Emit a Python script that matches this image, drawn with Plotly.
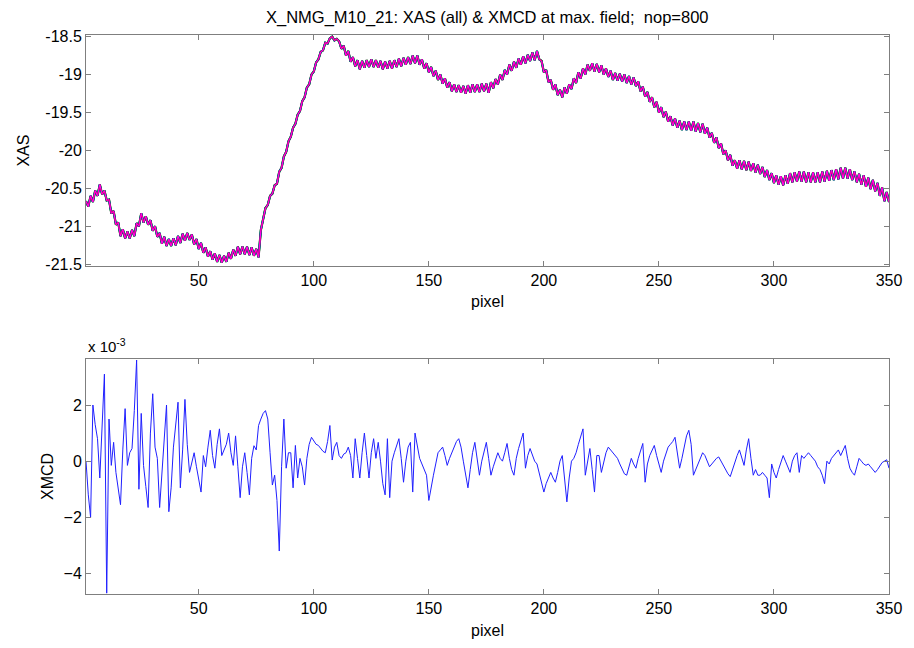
import plotly.graph_objects as go

# ---------------- data ----------------
pixel = list(range(1, 351))

xas = [
 -20.67, -20.74, -20.60, -20.68, -20.53, -20.60, -20.45, -20.58, -20.53, -20.66,
 -20.65, -20.83, -20.80, -20.98, -20.95, -21.13, -21.04, -21.16, -21.07, -21.16,
 -21.05, -21.13, -20.96, -21.00, -20.83, -20.95, -20.87, -20.98, -20.92, -21.06,
 -21.00, -21.14, -21.09, -21.23, -21.14, -21.26, -21.17, -21.26, -21.16, -21.25,
 -21.13, -21.22, -21.10, -21.19, -21.09, -21.18, -21.11, -21.24, -21.17, -21.30,
 -21.22, -21.35, -21.28, -21.40, -21.33, -21.44, -21.36, -21.47, -21.38, -21.48,
 -21.39, -21.47, -21.35, -21.43, -21.31, -21.39, -21.27, -21.37, -21.27, -21.37,
 -21.27, -21.38, -21.28, -21.39, -21.30, -21.41, -21.05, -20.88, -20.76, -20.72,
 -20.60, -20.57, -20.46, -20.44, -20.28, -20.23, -20.08, -20.02, -19.88, -19.82,
 -19.70, -19.65, -19.53, -19.48, -19.35, -19.30, -19.17, -19.13, -19.00, -18.96,
 -18.84, -18.80, -18.70, -18.68, -18.58, -18.59, -18.52, -18.50, -18.55, -18.53,
 -18.56, -18.66, -18.62, -18.75, -18.69, -18.83, -18.77, -18.89, -18.81, -18.93,
 -18.82, -18.91, -18.81, -18.90, -18.80, -18.90, -18.81, -18.91, -18.82, -18.93,
 -18.83, -18.92, -18.82, -18.92, -18.81, -18.90, -18.79, -18.89, -18.78, -18.87,
 -18.77, -18.86, -18.75, -18.85, -18.75, -18.87, -18.80, -18.92, -18.85, -18.97,
 -18.90, -19.02, -18.95, -19.07, -19.00, -19.12, -19.05, -19.17, -19.10, -19.22,
 -19.13, -19.23, -19.14, -19.24, -19.15, -19.25, -19.14, -19.24, -19.13, -19.23,
 -19.13, -19.23, -19.12, -19.22, -19.12, -19.24, -19.10, -19.18, -19.06, -19.13,
 -19.00, -19.07, -18.94, -19.00, -18.87, -18.95, -18.83, -18.91, -18.79, -18.87,
 -18.76, -18.85, -18.74, -18.82, -18.71, -18.81, -18.69, -18.80, -18.82, -18.97,
 -18.94, -19.10, -19.07, -19.20, -19.13, -19.27, -19.20, -19.30, -19.17, -19.25,
 -19.13, -19.19, -19.05, -19.11, -18.97, -19.05, -18.92, -19.00, -18.87, -18.95,
 -18.85, -18.96, -18.86, -18.97, -18.88, -19.00, -18.92, -19.03, -18.95, -19.07,
 -18.98, -19.08, -18.99, -19.09, -19.00, -19.11, -19.02, -19.13, -19.04, -19.15,
 -19.09, -19.22, -19.16, -19.29, -19.23, -19.36, -19.30, -19.43, -19.36, -19.50,
 -19.43, -19.56, -19.49, -19.62, -19.55, -19.67, -19.58, -19.70, -19.61, -19.73,
 -19.62, -19.73, -19.62, -19.74, -19.62, -19.75, -19.64, -19.76, -19.65, -19.78,
 -19.70, -19.83, -19.77, -19.90, -19.83, -19.97, -19.91, -20.05, -20.00, -20.13,
 -20.06, -20.20, -20.13, -20.24, -20.13, -20.25, -20.14, -20.26, -20.15, -20.27,
 -20.17, -20.29, -20.19, -20.31, -20.22, -20.35, -20.26, -20.39, -20.30, -20.43,
 -20.33, -20.45, -20.34, -20.46, -20.33, -20.44, -20.30, -20.42, -20.29, -20.41,
 -20.28, -20.41, -20.28, -20.42, -20.29, -20.42, -20.29, -20.42, -20.29, -20.42,
 -20.28, -20.41, -20.27, -20.40, -20.26, -20.39, -20.25, -20.38, -20.23, -20.37,
 -20.23, -20.37, -20.25, -20.39, -20.28, -20.42, -20.31, -20.45, -20.33, -20.48,
 -20.36, -20.51, -20.39, -20.54, -20.43, -20.60, -20.49, -20.67, -20.55, -20.68,
]

# XMCD in units of 1e-3
xmcd = [
 0.0, -1.2, -2.0, 2.0, 1.3, 0.8, -0.6, 1.4, 3.1, -4.7,
 1.5, -0.15, 0.67, -0.4, -0.9, -1.55, 0.4, 1.87, -0.15, 0.3,
 0.45, 1.8, 3.6, -1.0, 1.7, -0.15, -0.9, -1.65, 1.0, 2.4,
 0.5, 0.1, -1.65, -0.3, 1.0, 2.0, -1.8, -0.95, 0.5, 1.4,
 2.1, -0.95, 0.4, 2.2, 0.6, -0.4, 0.0, 0.3, -0.2, -0.7,
 -1.1, 0.2, -0.2, 0.5, 1.1, 0.2, -0.25, 0.6, 1.15, 0.2,
 0.4, 0.6, 1.0, 0.3, -0.15, 0.9, -0.2, -1.3, -0.2, 0.3,
 -0.4, -1.2, 0.1, 0.55, 0.4, 1.27, 1.5, 1.7, 1.8, 1.5,
 0.3, -0.85, -0.5, -1.4, -3.2, -0.2, 1.5, -0.25, 0.3, 0.3,
 -0.95, 0.56, -0.6, 0.1, -0.2, -0.85, 0.1, 0.6, 0.85, 0.7,
 0.6, 0.56, 0.45, 0.35, 0.3, 0.7, 1.27, 0.04, 0.5, 0.67,
 0.2, 0.1, 0.25, 0.3, 0.5, 0.2, -0.6, 0.8, 0.1, -0.6,
 0.3, 1.0, 0.2, -0.6, 0.3, 0.8, 0.1, 0.67, 0.0, -0.8,
 -1.2, 0.8, -1.3, 0.0, 0.3, 0.6, 0.8, 0.1, -0.75, 0.0,
 0.5, 0.67, -1.1, 1.0, 0.5, 0.1, -0.1, -0.3, -0.5, -1.4,
 -0.9, -0.5, -0.1, 0.3, 0.4, 0.5, 0.2, -0.15, 0.1, 0.3,
 0.5, 0.7, 0.8, 0.5, 0.0, -0.5, -0.95, -0.3, 0.3, 0.67,
 0.1, -0.5, 0.0, 0.4, 0.67, 0.1, -0.5, -0.2, 0.1, 0.3,
 0.1, 0.0, 0.3, 0.63, 0.1, -0.3, -0.5, 0.1, 0.45, 0.7,
 1.0, -0.25, 0.2, 0.45, 0.2, 0.0, -0.1, -0.4, -0.8, -1.1,
 -0.8, -0.6, -0.4, -0.6, -0.75, -0.4, 0.0, 0.2, -0.6, -1.45,
 -0.6, 0.0, 0.1, 0.3, 0.6, 0.9, 1.15, -0.5, 0.0, 0.45,
 -0.3, -1.1, 0.2, 0.2, -0.4, 0.0, 0.3, 0.5, 0.4, 0.3,
 0.2, 0.1, -0.1, -0.3, -0.45, -0.5, -0.2, 0.1, -0.1, -0.25,
 0.1, 0.4, 0.63, -0.75, -0.1, 0.2, 0.4, 0.56, 0.2, -0.1,
 -0.4, 0.0, 0.3, 0.5, 0.6, 0.7, 0.85, 0.3, -0.25, 0.1,
 0.5, 0.9, 1.1, 0.6, -0.5, -0.3, -0.1, 0.1, 0.3, 0.2,
 0.0, -0.2, -0.1, 0.0, 0.1, 0.15, 0.0, -0.2, -0.35, -0.45,
 -0.55, -0.3, 0.0, 0.2, 0.4, 0.1, -0.15, 0.4, 0.8, 0.1,
 -0.5, -0.3, -0.5, -0.5, -0.4, -0.5, -0.6, -1.3, -0.1, -0.4,
 -0.6, -0.3, 0.0, 0.2, 0.0, -0.2, -0.4, 0.0, 0.2, 0.3,
 -0.4, 0.2, 0.1, 0.2, 0.3, 0.2, 0.1, 0.0, -0.2, -0.3,
 -0.5, -0.8, 0.0, -0.1, 0.1, 0.2, 0.3, 0.4, 0.2, 0.4,
 0.56, 0.1, -0.25, -0.4, -0.5, -0.2, 0.1, 0.0, -0.1, -0.15,
 -0.1, -0.2, -0.3, -0.4, -0.3, -0.15, -0.05, 0.0, 0.05, -0.25,
]

scan_colors = ["#000000", "#00a000", "#00c0c0", "#0000ff", "#ff0000", "#ff00ff"]
scan_widths = [2.2, 2.0, 1.8, 1.6, 1.3, 1.0]

x_ticks = [50, 100, 150, 200, 250, 300, 350]
xas_ticks = [-21.5, -21, -20.5, -20, -19.5, -19, -18.5]
xmcd_ticks = [-4, -2, 0, 2]

title = "X_NMG_M10_21: XAS (all) &amp; XMCD at max. field;\u00a0 nop=800"

# ---------------- figure ----------------
fig = go.Figure()
for c, w in zip(scan_colors, scan_widths):
    fig.add_trace(go.Scatter(x=pixel, y=xas, mode="lines",
                             line=dict(color=c, width=w),
                             xaxis="x", yaxis="y", showlegend=False,
                             hoverinfo="skip"))
fig.add_trace(go.Scatter(x=pixel, y=xmcd, mode="lines",
                         line=dict(color="#2020ff", width=1),
                         xaxis="x2", yaxis="y2", showlegend=False))

font_fam = "Liberation Sans, Arial, sans-serif"

axis_common = dict(
    showline=True, linecolor="#7f7f7f", linewidth=1, mirror="ticks",
    ticks="inside", ticklen=5, tickcolor="#7f7f7f", tickwidth=1,
    showgrid=False, zeroline=False,
    tickfont=dict(family=font_fam, size=16, color="#000"),
)

fig.update_layout(
    width=914, height=648,
    margin=dict(l=86, r=17, t=35, b=47),
    paper_bgcolor="white", plot_bgcolor="white",
    font=dict(family=font_fam, size=16, color="#000"),
    xaxis=dict(domain=[0, 1], anchor="y", range=[1, 350], tickvals=x_ticks,
               title=dict(text="pixel", standoff=7, font=dict(size=16)),
               **axis_common),
    yaxis=dict(domain=[0.5866, 1], anchor="x", range=[-21.526, -18.478],
               tickvals=xas_ticks, ticktext=[("%g" % t) for t in xas_ticks],
               title=dict(text="XAS", standoff=11, font=dict(size=16)),
               **axis_common),
    xaxis2=dict(domain=[0, 1], anchor="y2", range=[1, 350], tickvals=x_ticks,
                title=dict(text="pixel", standoff=8, font=dict(size=16)),
                **axis_common),
    yaxis2=dict(domain=[0, 0.4205], anchor="x2", range=[-4.73, 3.64],
                tickvals=xmcd_ticks,
                title=dict(text="XMCD", standoff=5, font=dict(size=16)),
                **axis_common),
    annotations=[
        dict(text=title, x=0.5, y=1, xref="paper", yref="paper",
             xanchor="center", yanchor="bottom", yshift=6, showarrow=False,
             font=dict(family=font_fam, size=16.5, color="#000")),
        dict(text="x 10<sup>-3</sup>", x=0, y=0.4205, xref="paper", yref="paper",
             xanchor="left", yanchor="bottom", yshift=2, showarrow=False,
             font=dict(family=font_fam, size=15, color="#000")),
    ],
)

fig.write_html("out.html")
